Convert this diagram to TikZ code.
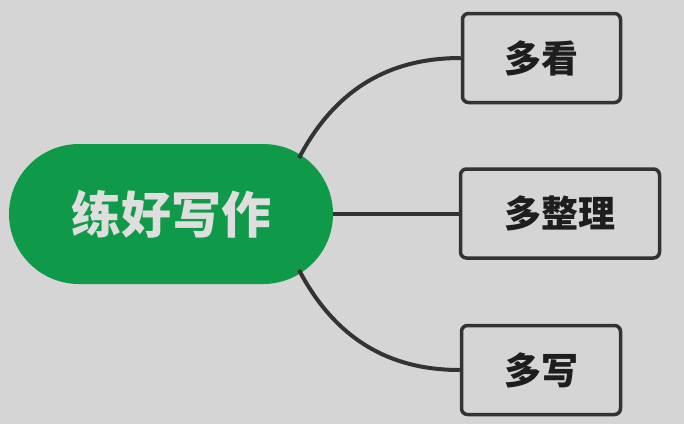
\documentclass[tikz,border=0pt]{standalone}
\usepackage{fontspec}
\newfontfamily\cjk{Noto Sans CJK SC}
\usetikzlibrary{shapes.misc}
\definecolor{bg}{HTML}{D5D5D5}
\definecolor{pillgreen}{HTML}{0E9A48}
\definecolor{pilltext}{HTML}{DEDEDE}
\definecolor{linec}{HTML}{333333}
\definecolor{boxtext}{HTML}{1E1E1E}
\begin{document}
\begin{tikzpicture}[x=1pt,y=-1pt,
  pill/.style={rounded rectangle, fill=pillgreen, minimum width=324pt, minimum height=140pt, inner sep=0pt,
    font=\cjk\bfseries\fontsize{50}{56}\selectfont, text=pilltext},
  leaf/.style={draw=linec, line width=3.5pt, rounded corners=6pt, fill=bg, inner sep=0pt,
    minimum height=89pt, font=\cjk\bfseries\fontsize{37}{42}\selectfont, text=boxtext},
  conn/.style={draw=linec, line width=4pt}]
\fill[bg] (0,0) rectangle (684,424);
\useasboundingbox (0,0) rectangle (684,424);
\node[pill] (root) at (171,214) {练好写作};
\node[leaf, minimum width=158pt] (a) at (541.5,58) {多看};
\node[leaf, minimum width=199pt] (b) at (560,213.5) {多整理};
\node[leaf, minimum width=159pt] (c) at (541,370) {多写};
\draw[conn] (root.center) ++(128,-56) coordinate (r1) (r1) .. controls (340,80) and (400,58) .. (a.west);
\draw[conn] (root.east) -- (b.west |- root.east);
\draw[conn] (root.center) ++(128,56) coordinate (r3) (r3) .. controls (340,348) and (400,370) .. (c.west);
\end{tikzpicture}
\end{document}
